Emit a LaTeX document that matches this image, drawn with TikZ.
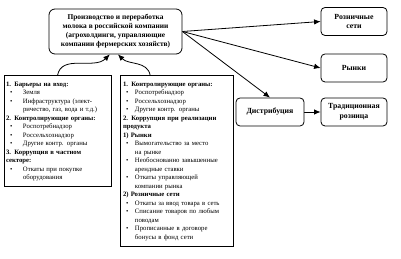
\documentclass[tikz,border=0pt]{standalone}
\usepackage{fontspec}
\setmainfont{Liberation Serif}
\usepackage{tikz}
\usetikzlibrary{arrows.meta}
\pgfdeclarelayer{edgelayer}
\pgfdeclarelayer{nodelayer}
\pgfsetlayers{edgelayer,nodelayer,main}
\tikzstyle{edge}=[draw=black, line width=0.8pt, -{Latex[length=6.5pt,width=5.5pt]}]
\tikzstyle{rbox}=[rounded corners=4pt, draw=black, line width=0.8pt, fill=white, font=\bfseries\fontsize{7.8}{9.5}\selectfont, align=center, inner sep=0pt, minimum width=66pt, minimum height=28pt]
\tikzstyle{topbox}=[rbox, font=\bfseries\fontsize{7.4}{9}\selectfont, rounded corners=6pt, minimum width=133pt, minimum height=45pt]
\tikzstyle{listbox}=[draw=black, line width=1pt, fill=white, font=\fontsize{6.7}{8.5}\selectfont, align=left, inner sep=2pt]
\newcommand{\lbul}{\hspace*{4pt}\makebox[13pt][l]{\textbullet}}
\newcommand{\lind}{\hspace*{17pt}}
\newcommand{\mbul}{\hspace*{3pt}\makebox[9pt][l]{\textbullet}}
\newcommand{\mind}{\hspace*{12pt}}

\begin{document}
\begin{tikzpicture}
	\useasboundingbox (0,0) rectangle (14.0935,9.1029);
	\begin{pgfonlayer}{nodelayer}
		\node [style=topbox] (0) at (4.0594, 7.9957) {Производство и переработка\\молока в российской компании\\(агрохолдинги, управляющие\\компании фермерских хозяйств)};
		\node [style=listbox, text width=103pt, minimum height=111pt] (1) at (2.0209, 4.4811) {\textbf{1. Барьеры на вход:}\\
			\lbul Земля\\
			\lbul Инфраструктура (элект-\\
			\lind ричество, газ, вода и т.д.)\\
			\textbf{2. Контролирующие органы:}\\
			\lbul Роспотребнадзор\\
			\lbul Россельхознадзор\\
			\lbul Другие контр. органы\\
			\textbf{3. Коррупция в частном}\\
			\textbf{секторе:}\\
			\lbul Откаты при покупке\\
			\lind оборудования};
		\node [style=listbox, text width=107pt, inner xsep=3pt, minimum height=171pt] (2) at (6.2032, 3.4267) {\textbf{1. Контролирующие органы:}\\
			\mbul Роспотребнадзор\\
			\mbul Россельхознадзор\\
			\mbul Другие контр. органы\\
			\textbf{2. Коррупция при реализации}\\
			\textbf{продукта}\\
			\textbf{1) Рынки}\\
			\mbul Вымогательство за место\\
			\mind на рынке\\
			\mbul Необоснованно завышенные\\
			\mind арендные ставки\\
			\mbul Откаты управляющей\\
			\mind компании рынка\\
			\textbf{2) Розничные сети}\\
			\mbul Откаты за ввод товара в сеть\\
			\mbul Списание товаров по любым\\
			\mind поводам\\
			\mbul Прописанные в договоре\\
			\mind бонусы в фонд сети};
		\node [style=rbox] (3) at (12.4417, 8.3472) {Розничные\\сети};
		\node [style=rbox] (4) at (12.4417, 6.7129) {Рынки};
		\node [style=rbox] (5) at (12.4417, 5.1665) {Традиционная\\розница};
		\node [style=rbox, minimum width=68pt] (6) at (9.4894, 5.1665) {Дистрибуция};
	\end{pgfonlayer}
	\begin{pgfonlayer}{edgelayer}
		\draw [style=edge] (0.east) to (3.west);
		\draw [style=edge] (0.east) to (4.west);
		\draw [style=edge] (0.east) to (6.north);
		\draw [style=edge] (6) to (5);
		\draw [style=edge, out=80, in=-135] (1.north) to (0.-104);
		\draw [style=edge, out=100, in=-45] (2.107) to (0.-84);
	\end{pgfonlayer}
\end{tikzpicture}
\end{document}
